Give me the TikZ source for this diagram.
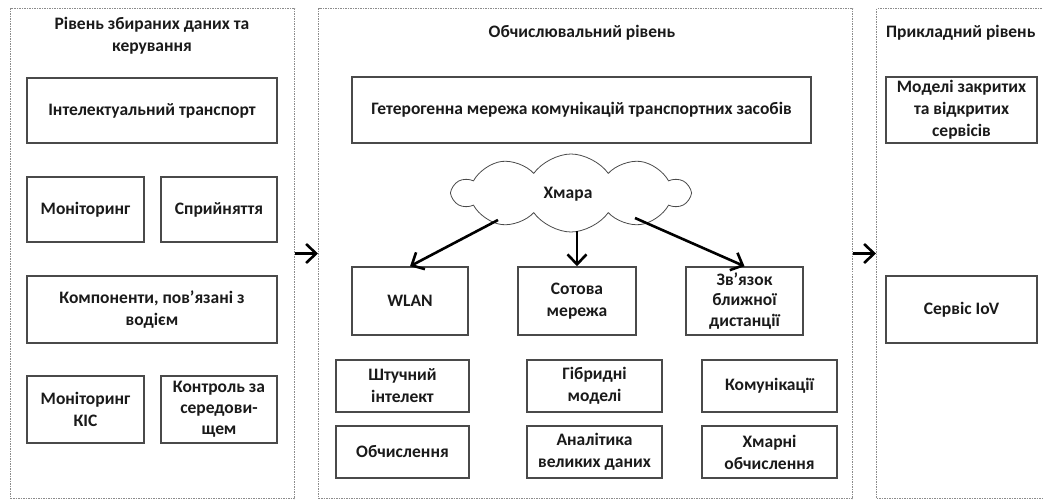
\documentclass[tikz,border=0pt]{standalone}
\usepackage{fontspec}
\setmainfont{Carlito}
\usetikzlibrary{shapes.symbols,arrows.meta,calc}
\definecolor{boxline}{HTML}{4A4A4A}
\definecolor{panelline}{HTML}{8C8C8C}
\definecolor{txt}{HTML}{1A1A1A}
\tikzset{
  panel/.style={draw=panelline, line width=1pt, dash pattern=on 1.5pt off 1pt, anchor=north west, inner sep=0pt},
  bx/.style={draw=boxline, line width=1.5pt, fill=white, align=center, inner sep=1pt, text=txt,
    font=\fontsize{17.5}{22}\selectfont\bfseries},
  ttl/.style={align=center, text=txt, font=\fontsize{17.5}{22}\selectfont\bfseries, inner sep=0pt},
  arr/.style={line width=2.6pt, draw=black, -{Straight Barb[length=10pt,width=19pt]}},
}
\begin{document}
\begin{tikzpicture}[x=1pt,y=-1pt]
\useasboundingbox (0,0) rectangle (1043,500);
\clip (0,0) rectangle (1043,500);
% panels
\node[panel, minimum width=284pt, minimum height=490pt] (lp) at (10,8) {};
\node[panel, minimum width=534pt, minimum height=490pt] (mp) at (318,8) {};
\node[panel, minimum width=200pt, minimum height=490pt] (rp) at (876,8) {};
% titles
\node[ttl] (lt) at (152,36) {Рівень збираних даних та\\керування};
\node[ttl] (mt) at (582,33) {Обчислювальний рівень};
\node[ttl, anchor=west] (rt) at (886,33) {Прикладний рівень};
% left panel boxes
\node[bx, minimum width=250pt, minimum height=65pt] (it) at (152,110.5) {Інтелектуальний транспорт};
\node[bx, minimum width=117pt, minimum height=65pt] (mon) at (85.5,209.5) {Моніторинг};
\node[bx, minimum width=116pt, minimum height=65pt] (spr) at (219,209.5) {Сприйняття};
\node[bx, minimum width=250pt, minimum height=67pt] (komp) at (152,309.5) {Компоненти, пов’язані з\\водієм};
\node[bx, minimum width=117pt, minimum height=67pt] (kis) at (85.5,409.5) {Моніторинг\\КІС};
\node[bx, minimum width=116pt, minimum height=67pt, font=\fontsize{17.5}{21}\selectfont\bfseries] (kontr) at (219,409.5) {Контроль за\\середови-\\щем};
% middle panel
\node[bx, minimum width=459pt, minimum height=66pt] (het) at (581.5,110) {Гетерогенна мережа комунікацій транспортних засобів};
\node[cloud, cloud puffs=10, cloud puff arc=110, cloud ignores aspect, draw=boxline, line width=0.8pt,
  minimum width=236pt, minimum height=78pt, inner sep=0pt] (cl) at (571,193) {};
\node[ttl] (clt) at (568,194) {Хмара};
\node[bx, minimum width=116pt, minimum height=68pt] (wlan) at (410,301) {WLAN};
\node[bx, minimum width=118pt, minimum height=68pt] (sot) at (577,301) {Сотова\\мережа};
\node[bx, minimum width=117pt, minimum height=68pt, font=\fontsize{17.5}{20.5}\selectfont\bfseries] (zv) at (744.5,301) {Зв’язок\\ближної\\дистанції};
\node[bx, minimum width=133pt, minimum height=52pt] (ai) at (402.5,386) {Штучний\\інтелект};
\node[bx, minimum width=133pt, minimum height=52pt] (obch) at (402.5,452) {Обчислення};
\node[bx, minimum width=135pt, minimum height=52pt] (hyb) at (594.5,386) {Гібридні\\моделі};
\node[bx, minimum width=135pt, minimum height=52pt] (anal) at (594.5,452) {Аналітика\\великих даних};
\node[bx, minimum width=135pt, minimum height=52pt] (kom) at (769.5,386) {Комунікації};
\node[bx, minimum width=135pt, minimum height=52pt] (hm) at (769.5,452) {Хмарні\\обчислення};
% right panel
\node[bx, minimum width=151pt, minimum height=66pt] (mod) at (961.5,110) {Моделі закритих\\та відкритих\\сервісів};
\node[bx, minimum width=151pt, minimum height=67pt] (iov) at (961.5,309.5) {Сервіс IoV};
% arrows
\draw[arr] ($(cl.center)+(-73,27)$) -- (wlan.north);
\draw[arr] ($(cl.center)+(6,38)$) -- (sot.north);
\draw[arr] ($(cl.center)+(64,25)$) -- (zv.north);
\draw[arr] (lp.east) -- (mp.west);
\draw[arr] (mp.east) -- (rp.west);
\end{tikzpicture}
\end{document}
